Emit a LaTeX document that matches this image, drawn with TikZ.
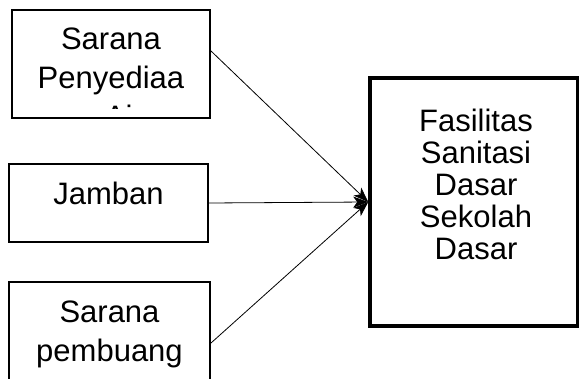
\documentclass[tikz,border=0pt]{standalone}
\usepackage{fontspec}
\setmainfont{Liberation Sans}
\usetikzlibrary{arrows.meta}
\begin{document}
\begin{tikzpicture}[x=1pt,y=-1pt,
  srcbox/.style={draw, line width=2pt, inner sep=0pt},
  bigbox/.style={draw, line width=3.5pt, inner sep=0pt},
  lbl/.style={align=center, inner sep=0pt, anchor=base,
    font=\fontsize{31}{39}\selectfont},
  biglbl/.style={align=center, inner sep=0pt, anchor=base,
    font=\fontsize{31}{32}\selectfont},
  conn/.style={line width=0.8pt, -{Stealth[length=15pt,width=11pt,inset=4pt]}}]
  \useasboundingbox (0,0) rectangle (579,379);
  \clip (0,0) rectangle (579,379);

  % input boxes
  \node[srcbox, minimum width=198pt, minimum height=108pt] (b1) at (111,64) {};
  \node[srcbox, minimum width=199pt, minimum height=78pt] (b2) at (108.5,203) {};
  \node[srcbox, minimum width=201pt, minimum height=138pt] (b3) at (109.5,351) {};
  % target box
  \node[bigbox, minimum width=208pt, minimum height=248pt] (big) at (474,202) {};

  % labels, anchored at the baseline of their last line
  % (the first one overflows its box and is cut off)
  \begin{scope}
    \clip (12,10) rectangle (210,108.3);
    \node[lbl] (t1) at (111,128) {Sarana\\Penyediaa\\n Air};
  \end{scope}
  \node[lbl] (t2) at (108.5,205) {Jamban};
  \node[lbl] (t3) at (109.5,362) {Sarana\\pembuang};
  \node[biglbl] (t4) at (476,260) {Fasilitas\\Sanitasi\\Dasar\\Sekolah\\Dasar};

  % connectors
  \draw[conn] ([yshift=13pt]b1.east) -- (big.west);
  \draw[conn] (b2.east) -- (big.west);
  \draw[conn] ([yshift=8pt]b3.east) -- (big.west);
\end{tikzpicture}
\end{document}
